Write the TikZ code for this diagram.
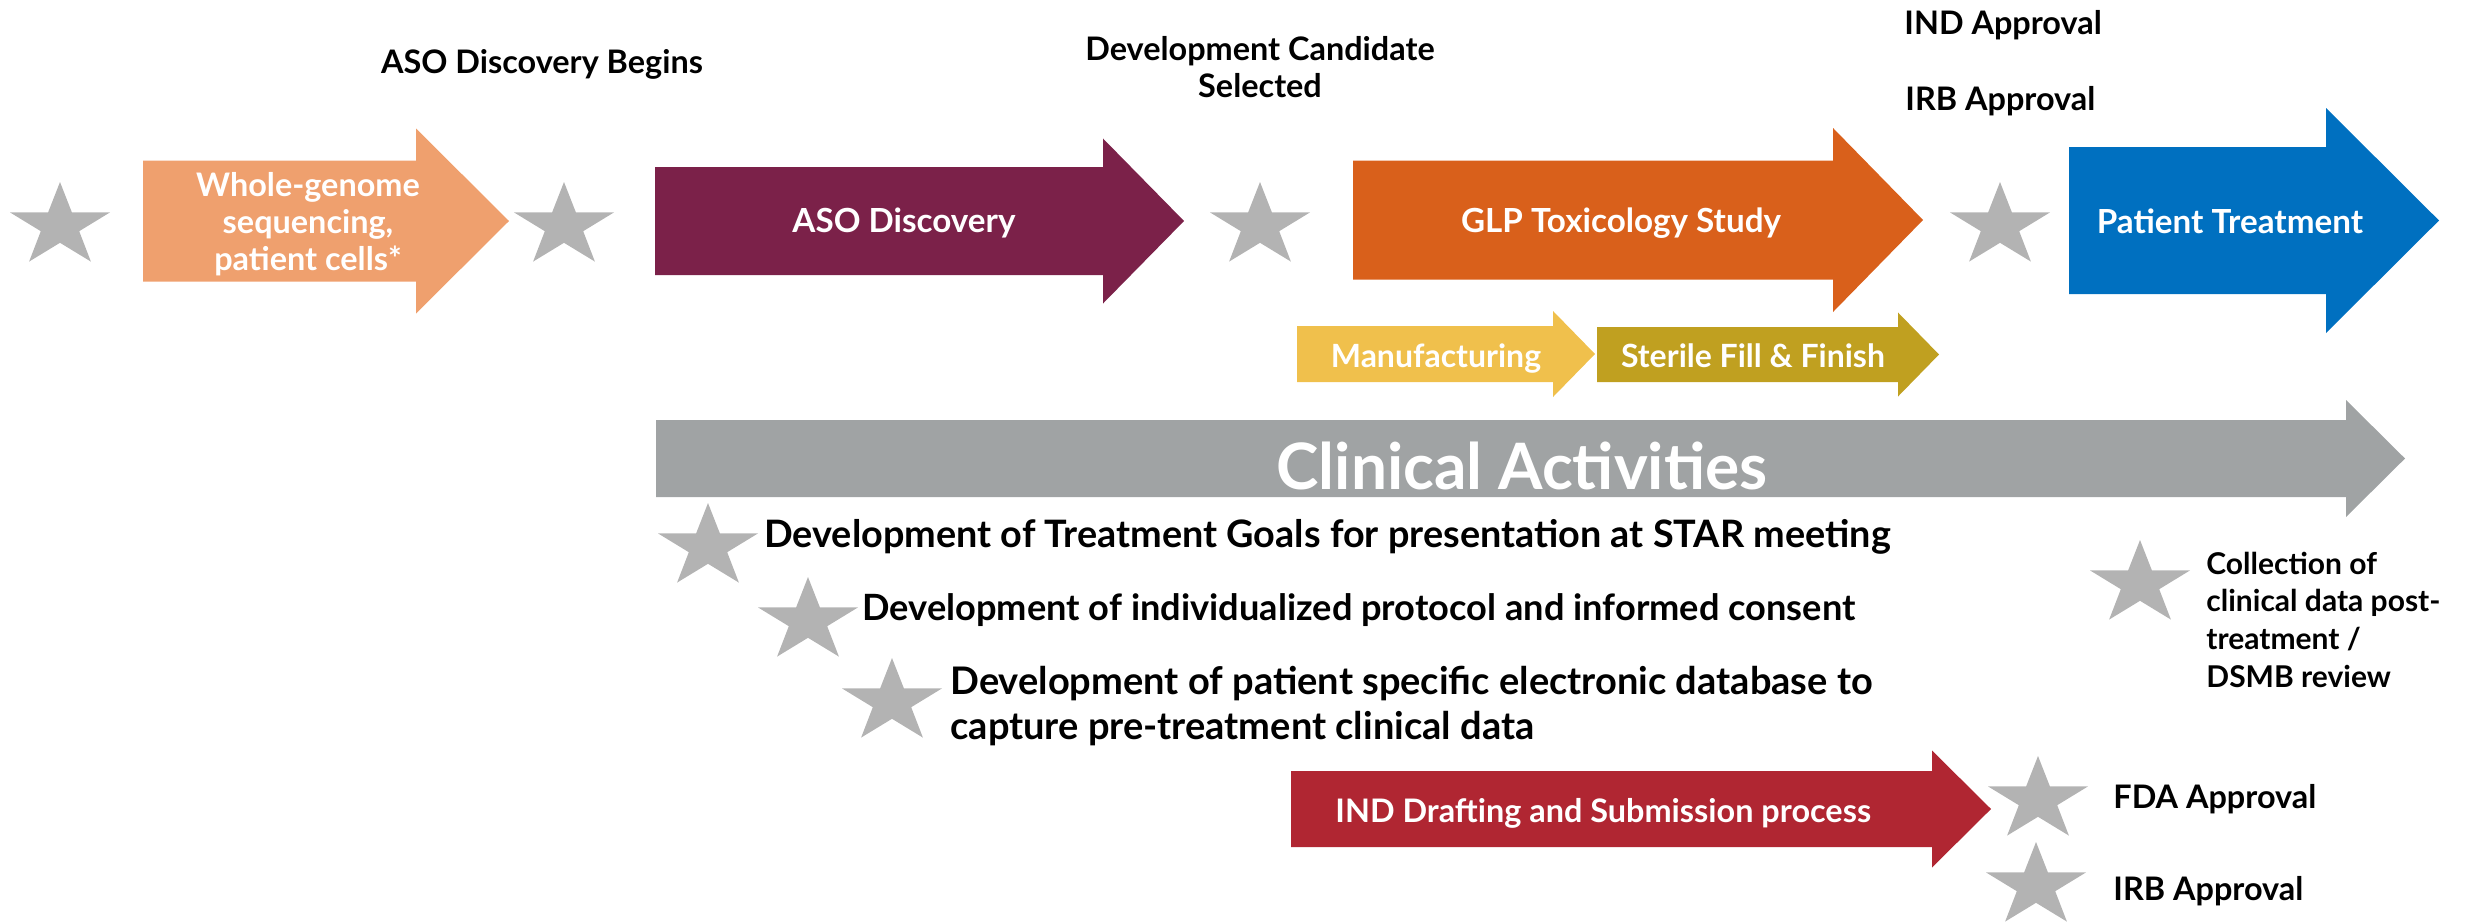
\documentclass[tikz,border=0pt]{standalone}
\usepackage{fontspec}
\setmainfont{Lato}
\definecolor{wgorange}{RGB}{239,160,110}
\definecolor{asopurple}{RGB}{123,33,73}
\definecolor{glporange}{RGB}{217,96,27}
\definecolor{ptblue}{RGB}{0,112,192}
\definecolor{mfgyellow}{RGB}{240,192,76}
\definecolor{sterilegold}{RGB}{192,160,32}
\definecolor{clingray}{RGB}{160,163,164}
\definecolor{indred}{RGB}{176,38,50}
\definecolor{stargray}{RGB}{179,179,179}
% block arrow: colour, left x, shoulder x, tip x, mid y, half body, half head
\newcommand\phasearrow[7]{%
  \fill[#1] (#2,#5-#6) -- (#3,#5-#6) -- (#3,#5-#7) -- (#4,#5)
    -- (#3,#5+#7) -- (#3,#5+#6) -- (#2,#5+#6) -- cycle;}
\begin{document}
\begin{tikzpicture}[x=0.5pt,y=-0.5pt,
  lbl/.style={inner sep=0pt, text=black, font=\bfseries\fontsize{16.2}{18.5}\selectfont},
  inlbl/.style={inner sep=0pt, text=white, font=\bfseries\fontsize{16.6}{18.5}\selectfont},
  wglbl/.style={inner sep=0pt, text=white, font=\bfseries\fontsize{16.2}{18.5}\selectfont},
  smlbl/.style={inner sep=0pt, text=white, font=\bfseries\fontsize{16}{18}\selectfont},
  indlbl/.style={inner sep=0pt, text=white, font=\bfseries\fontsize{16.2}{18.5}\selectfont},
  biglbl/.style={inner sep=0pt, text=white, font=\bfseries\fontsize{32}{38}\selectfont},
  actlbl/.style={inner sep=0pt, text=black},
  collbl/.style={inner sep=0pt, text=black, font=\bfseries\fontsize{15}{18.85}\selectfont},
  gstar/.pic={\fill[stargray] (0,-44) -- (-11.9,-13.6) -- (-50,-13.6) -- (-19.2,5.2)
     -- (-30.9,35.6) -- (0,16.8) -- (30.9,35.6) -- (19.2,5.2) -- (50,-13.6)
     -- (11.9,-13.6) -- cycle;}]
\useasboundingbox (0,0) rectangle (2478,921);

% phase arrows
\phasearrow{wgorange}{143}{416}{509}{221}{60.5}{92.5}
\phasearrow{asopurple}{655}{1103}{1184}{221}{54}{82.5}
\phasearrow{glporange}{1353}{1833}{1923}{220}{59.5}{92}
\phasearrow{ptblue}{2069}{2326}{2439}{220.5}{73.5}{112.5}
\phasearrow{mfgyellow}{1297}{1553}{1595}{354}{28}{43}
\phasearrow{sterilegold}{1597}{1898}{1939}{354.5}{27.5}{42}
\phasearrow{clingray}{656}{2346}{2405}{458.5}{38.5}{58.5}
\phasearrow{indred}{1291}{1932}{1991}{809}{38}{58.5}

% milestone stars
\pic (s1) at (60,226) {gstar};
\pic (s2) at (564,226) {gstar};
\pic (s3) at (1260,226) {gstar};
\pic (s4) at (2000,226) {gstar};
\pic (sa) at (708,547) {gstar};
\pic (sb) at (808,621) {gstar};
\pic (sc) at (892,702) {gstar};
\pic (sd) at (2140,584) {gstar};
\pic (se) at (2038,800) {gstar};
\pic (sf) at (2036,886) {gstar};

% milestone labels
\node[lbl, anchor=base] (asobegins) at (542,73) {ASO Discovery Begins};
\node[lbl, anchor=base] (devcand) at (1260,60)
  {\begin{tabular}[t]{@{}c@{}}Development Candidate\\Selected\end{tabular}};
\node[lbl, anchor=base west] (indapp) at (1904,34) {IND Approval};
\node[lbl, anchor=base west] (irbapp) at (1905,110) {IRB Approval};

% arrow texts
\node[wglbl, anchor=base] (wgs) at (308,196)
  {\begin{tabular}[t]{@{}c@{}}Whole-genome\\sequencing,\\patient cells*\end{tabular}};
\node[inlbl, anchor=base] (asodisc) at (904,232) {ASO Discovery};
\node[inlbl, anchor=base] (glp) at (1621,232) {GLP Toxicology Study};
\node[inlbl, anchor=base] (ptreat) at (2230,233) {Patient Treatment};
\node[smlbl, anchor=base] (mfg) at (1436,367) {Manufacturing};
\node[smlbl, anchor=base] (sterile) at (1753,367) {Sterile Fill \& Finish};
\node[biglbl, anchor=base] (clin) at (1522,489) {Clinical Activities};
\node[indlbl, anchor=base west] (inddraft) at (1335,822) {IND Drafting and Submission process};

% clinical activity items
\node[actlbl, anchor=base west, font=\bfseries\fontsize{18.9}{22.5}\selectfont] (goals) at (764,547)
  {Development of Treatment Goals for presentation at STAR meeting};
\node[actlbl, anchor=base west, font=\bfseries\fontsize{18.1}{22.5}\selectfont] (protocol) at (862,620)
  {Development of individualized protocol and informed consent};
\node[actlbl, anchor=base west, font=\bfseries\fontsize{19}{22.5}\selectfont] (database) at (950,694)
  {\begin{tabular}[t]{@{}l@{}}Development of patient specific electronic database to\\capture pre-treatment clinical data\end{tabular}};
\node[collbl, anchor=base west] (collect) at (2206,574)
  {\begin{tabular}[t]{@{}l@{}}Collection of\\clinical data post-\\treatment /\\DSMB review\end{tabular}};
\node[lbl, anchor=base west] (fda) at (2113,808) {FDA Approval};
\node[lbl, anchor=base west] (irbfinal) at (2113,900) {IRB Approval};
\end{tikzpicture}
\end{document}
